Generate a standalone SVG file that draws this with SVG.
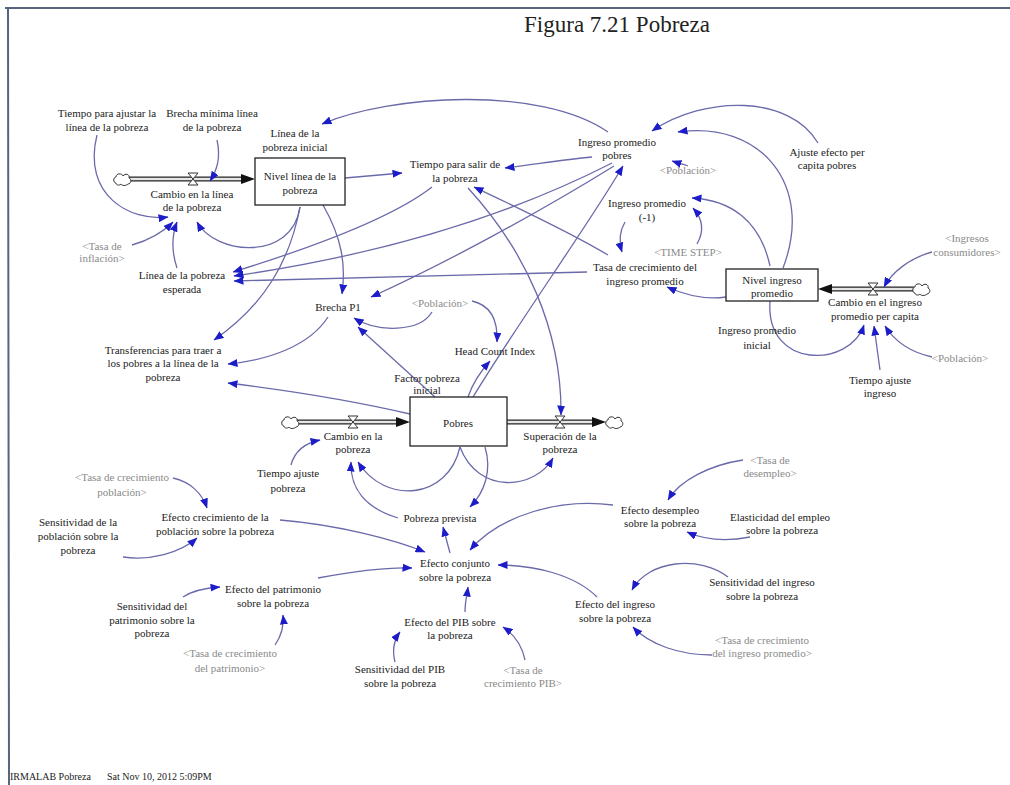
<svg xmlns="http://www.w3.org/2000/svg" xmlns:xlink="http://www.w3.org/1999/xlink" width="1010" height="785" viewBox="0 0 1010 785">
<style>
text{font-family:"Liberation Serif","Times New Roman",serif;font-size:11px;fill:#222;text-anchor:middle}
.g{fill:#8a8a8a}
.title{font-size:23px}
.foot{font-size:10px;text-anchor:start}
.c{fill:none;stroke:#6a6aaa;stroke-width:1.3;marker-end:url(#ah)}
.box{fill:#fff;stroke:#222;stroke-width:1.3}
.pipeo{stroke:#222;stroke-width:5}
.pipei{stroke:#e6e6e6;stroke-width:2.4}
.frame{stroke:#56647e;stroke-width:2;fill:none}
</style>
<defs>
<marker id="ah" viewBox="0 0 10 8" refX="9.5" refY="4" markerWidth="10" markerHeight="8" orient="auto" markerUnits="userSpaceOnUse"><path d="M0,0 L10,4 L0,8 Z" fill="#1c1cc8"/></marker>
<path id="cloud" d="M-6,4 C-9,4 -9,-2 -6,-2 C-6,-6 0,-6 1,-3 C3,-6 8,-5 7,-1 C10,0 9,5 6,5 C4,7 0,7 -1,5 C-3,7 -6,6 -6,4 Z" fill="#fff" stroke="#333" stroke-width="1"/>
<path id="valve" d="M-5,-6 L5,-6 L-5,6 L5,6 Z" fill="#fff" stroke="#333" stroke-width="1"/>
</defs>
<rect x="0" y="0" width="1010" height="785" fill="#fff"/>
<path class="frame" d="M5,8 L1010,8 M8,8 L9,785"/>
<text class="title" x="617" y="32">Figura 7.21 Pobreza</text>
<text class="foot" x="10" y="780">IRMALAB Pobreza</text>
<text class="foot" x="107" y="780">Sat Nov 10, 2012 5:09PM</text>

<g id="flows">
<line class="pipeo" x1="129" y1="179" x2="245" y2="179"/><line class="pipei" x1="129" y1="179" x2="245" y2="179"/>
<polygon points="241,174 255,179 241,184" fill="#111"/>
<use xlink:href="#cloud" x="122" y="179"/><use xlink:href="#valve" x="193" y="179"/>
<line class="pipeo" x1="297" y1="422" x2="400" y2="422"/><line class="pipei" x1="297" y1="422" x2="400" y2="422"/>
<polygon points="396,417 410,422 396,427" fill="#111"/>
<use xlink:href="#cloud" x="290" y="422"/><use xlink:href="#valve" x="353" y="422"/>
<line class="pipeo" x1="507" y1="422" x2="596" y2="422"/><line class="pipei" x1="507" y1="422" x2="596" y2="422"/>
<polygon points="592,417 606,422 592,427" fill="#111"/>
<use xlink:href="#cloud" x="614" y="422"/><use xlink:href="#valve" x="560" y="422"/>
<line class="pipeo" x1="828" y1="289" x2="914" y2="289"/><line class="pipei" x1="828" y1="289" x2="914" y2="289"/>
<polygon points="832,284 818,289 832,294" fill="#111"/>
<use xlink:href="#cloud" x="921" y="289"/><use xlink:href="#valve" x="873" y="289"/>
</g>

<g id="connectors">
<path class="c" d="M97,135 C82,195 130,222 168,217"/>
<path class="c" d="M217,140 C221,158 217,170 210,181"/>
<path class="c" d="M132,245 C150,240 163,232 173,222"/>
<path class="c" d="M177,268 C171,250 172,235 177,222"/>
<path class="c" d="M300,207 C292,262 215,255 197,222"/>
<path class="c" d="M345,178 L402,173"/>
<path class="c" d="M323,205 C342,238 346,265 342,294"/>
<path class="c" d="M300,207 C290,260 265,305 214,340"/>
<path class="c" d="M608,132 C540,85 390,95 322,124"/>
<path class="c" d="M592,157 C560,160 532,165 505,168"/>
<path class="c" d="M432,187 C400,212 330,242 233,272"/>
<path class="c" d="M612,163 C520,210 400,252 234,276"/>
<path class="c" d="M587,272 C450,276 330,279 234,281"/>
<path class="c" d="M614,166 C540,212 440,266 371,297"/>
<path class="c" d="M608,255 C570,232 512,205 474,187"/>
<path class="c" d="M468,188 C525,250 562,330 561,415"/>
<path class="c" d="M473,397 C520,320 585,230 623,166"/>
<path class="c" d="M468,397 C472,385 480,372 490,361"/>
<path class="c" d="M472,301 C490,305 498,320 497,342"/>
<path class="c" d="M432,312 C420,332 378,333 354,318"/>
<path class="c" d="M435,397 L358,327"/>
<path class="c" d="M410,414 C350,400 285,390 228,383"/>
<path class="c" d="M328,317 C310,345 270,360 228,364"/>
<path class="c" d="M291,465 C295,450 305,443 320,440"/>
<path class="c" d="M460,447 C448,500 385,505 358,462"/>
<path class="c" d="M398,518 C365,508 350,488 351,462"/>
<path class="c" d="M460,447 C478,495 535,490 553,458"/>
<path class="c" d="M485,447 C492,470 485,492 470,507"/>
<path class="c" d="M450,553 L443,527"/>
<path class="c" d="M280,520 C340,525 395,540 425,552"/>
<path class="c" d="M318,578 C350,572 385,567 412,568"/>
<path class="c" d="M465,612 C465,602 467,595 468,587"/>
<path class="c" d="M613,505 C560,498 500,515 470,550"/>
<path class="c" d="M597,597 C575,575 535,565 498,565"/>
<path class="c" d="M173,478 C190,482 202,493 207,508"/>
<path class="c" d="M123,557 C150,561 180,553 197,538"/>
<path class="c" d="M183,597 C192,591 205,588 220,587"/>
<path class="c" d="M275,645 C282,635 284,625 283,615"/>
<path class="c" d="M395,662 C392,650 394,640 400,632"/>
<path class="c" d="M525,660 C522,645 515,635 503,627"/>
<path class="c" d="M743,460 C710,465 680,480 668,500"/>
<path class="c" d="M750,537 C725,542 705,540 687,532"/>
<path class="c" d="M728,577 C700,555 648,560 632,590"/>
<path class="c" d="M712,655 C680,655 650,645 633,627"/>
<path class="c" d="M818,143 C790,95 705,95 652,131"/>
<path class="c" d="M783,268 C815,185 760,120 678,132"/>
<path class="c" d="M688,166 C683,164 678,163 672,161"/>
<path class="c" d="M770,266 C760,220 730,200 692,198"/>
<path class="c" d="M697,244 C705,230 702,218 693,208"/>
<path class="c" d="M625,222 C619,232 619,242 622,252"/>
<path class="c" d="M726,297 C705,300 685,295 667,287"/>
<path class="c" d="M932,252 C910,258 892,272 884,287"/>
<path class="c" d="M770,301 C765,370 850,368 864,325"/>
<path class="c" d="M880,370 C878,355 876,340 874,326"/>
<path class="c" d="M932,357 C910,352 895,342 885,326"/>
</g>

<g id="n-tiempo-ajustar-linea"><text x="107" y="117">Tiempo para ajustar la</text><text x="107" y="131">línea de la pobreza</text></g>
<g id="n-brecha-minima"><text x="212" y="117">Brecha mínima línea</text><text x="212" y="131">de la pobreza</text></g>
<g id="n-linea-inicial"><text x="295" y="137">Línea de la</text><text x="295" y="151">pobreza inicial</text></g>
<g id="n-nivel-linea"><rect class="box" x="255" y="158" width="90" height="47"/><text x="300" y="180">Nivel línea de la</text><text x="300" y="194">pobreza</text></g>
<g id="n-cambio-linea"><text x="192" y="198">Cambio en la línea</text><text x="192" y="211">de la pobreza</text></g>
<g id="n-tasa-inflacion"><text class="g" x="102" y="250">&lt;Tasa de</text><text class="g" x="102" y="262">inflación&gt;</text></g>
<g id="n-linea-esperada"><text x="182" y="279">Línea de la pobreza</text><text x="182" y="293">esperada</text></g>
<g id="n-brecha-p1"><text x="338" y="311">Brecha P1</text></g>
<g id="n-transferencias"><text x="163" y="354">Transferencias para traer a</text><text x="163" y="367">los pobres a la línea de la</text><text x="163" y="381">pobreza</text></g>
<g id="n-tiempo-salir"><text x="455" y="168">Tiempo para salir de</text><text x="455" y="182">la pobreza</text></g>
<g id="n-ingreso-pobres"><text x="617" y="146">Ingreso promedio</text><text x="617" y="159">pobres</text></g>
<g id="n-poblacion-1"><text class="g" x="688" y="174">&lt;Población&gt;</text></g>
<g id="n-ingreso-1"><text x="647" y="207">Ingreso promedio</text><text x="647" y="221">(-1)</text></g>
<g id="n-time-step"><text class="g" x="688" y="256">&lt;TIME STEP&gt;</text></g>
<g id="n-tasa-crec-ingreso"><text x="645" y="271">Tasa de crecimiento del</text><text x="645" y="285">ingreso promedio</text></g>
<g id="n-ajuste-efecto"><text x="827" y="156">Ajuste efecto per</text><text x="827" y="169">capita pobres</text></g>
<g id="n-nivel-ingreso"><rect class="box" x="726" y="269" width="92" height="32"/><text x="772" y="284">Nivel ingreso</text><text x="772" y="297">promedio</text></g>
<g id="n-cambio-ingreso"><text x="875" y="306">Cambio en el ingreso</text><text x="875" y="320">promedio per capita</text></g>
<g id="n-ingresos-consumidores"><text class="g" x="967" y="242">&lt;Ingresos</text><text class="g" x="967" y="256">consumidores&gt;</text></g>
<g id="n-ingreso-inicial"><text x="757" y="334">Ingreso promedio</text><text x="757" y="349">inicial</text></g>
<g id="n-poblacion-2"><text class="g" x="960" y="362">&lt;Población&gt;</text></g>
<g id="n-tiempo-ajuste-ingreso"><text x="880" y="384">Tiempo ajuste</text><text x="880" y="397">ingreso</text></g>
<g id="n-poblacion-3"><text class="g" x="440" y="307">&lt;Población&gt;</text></g>
<g id="n-head-count"><text x="495" y="355">Head Count Index</text></g>
<g id="n-factor-pobreza"><text x="427" y="382">Factor pobreza</text><text x="427" y="394">inicial</text></g>
<g id="n-pobres"><rect class="box" x="410" y="397" width="97" height="49"/><text x="458" y="427">Pobres</text></g>
<g id="n-superacion"><text x="560" y="440">Superación de la</text><text x="560" y="453">pobreza</text></g>
<g id="n-cambio-pobreza"><text x="353" y="440">Cambio en la</text><text x="353" y="453">pobreza</text></g>
<g id="n-tiempo-ajuste-pobreza"><text x="288" y="477">Tiempo ajuste</text><text x="288" y="492">pobreza</text></g>
<g id="n-tasa-crec-poblacion"><text class="g" x="122" y="481">&lt;Tasa de crecimiento</text><text class="g" x="122" y="496">población&gt;</text></g>
<g id="n-efecto-crec-poblacion"><text x="215" y="521">Efecto crecimiento de la</text><text x="215" y="535">población sobre la pobreza</text></g>
<g id="n-sens-poblacion"><text x="78" y="526">Sensitividad de la</text><text x="78" y="540">población sobre la</text><text x="78" y="554">pobreza</text></g>
<g id="n-efecto-patrimonio"><text x="273" y="593">Efecto del patrimonio</text><text x="273" y="607">sobre la pobreza</text></g>
<g id="n-sens-patrimonio"><text x="152" y="610">Sensitividad del</text><text x="152" y="624">patrimonio sobre la</text><text x="152" y="637">pobreza</text></g>
<g id="n-tasa-crec-patrimonio"><text class="g" x="230" y="657">&lt;Tasa de crecimiento</text><text class="g" x="230" y="672">del patrimonio&gt;</text></g>
<g id="n-pobreza-prevista"><text x="440" y="522">Pobreza prevista</text></g>
<g id="n-efecto-conjunto"><text x="455" y="567">Efecto conjunto</text><text x="455" y="581">sobre la pobreza</text></g>
<g id="n-efecto-pib"><text x="450" y="626">Efecto del PIB sobre</text><text x="450" y="639">la pobreza</text></g>
<g id="n-sens-pib"><text x="400" y="673">Sensitividad del PIB</text><text x="400" y="687">sobre la pobreza</text></g>
<g id="n-tasa-crec-pib"><text class="g" x="523" y="674">&lt;Tasa de</text><text class="g" x="523" y="687">crecimiento PIB&gt;</text></g>
<g id="n-efecto-desempleo"><text x="660" y="514">Efecto desempleo</text><text x="660" y="527">sobre la pobreza</text></g>
<g id="n-tasa-desempleo"><text class="g" x="770" y="464">&lt;Tasa de</text><text class="g" x="770" y="477">desempleo&gt;</text></g>
<g id="n-elasticidad"><text x="780" y="521">Elasticidad del empleo</text><text x="782" y="534">sobre la pobreza</text></g>
<g id="n-sens-ingreso"><text x="762" y="586">Sensitividad del ingreso</text><text x="762" y="600">sobre la pobreza</text></g>
<g id="n-efecto-ingreso"><text x="615" y="608">Efecto del ingreso</text><text x="615" y="622">sobre la pobreza</text></g>
<g id="n-tasa-crec-ingreso-prom"><text class="g" x="762" y="644">&lt;Tasa de crecimiento</text><text class="g" x="762" y="657">del ingreso promedio&gt;</text></g>
</svg>
